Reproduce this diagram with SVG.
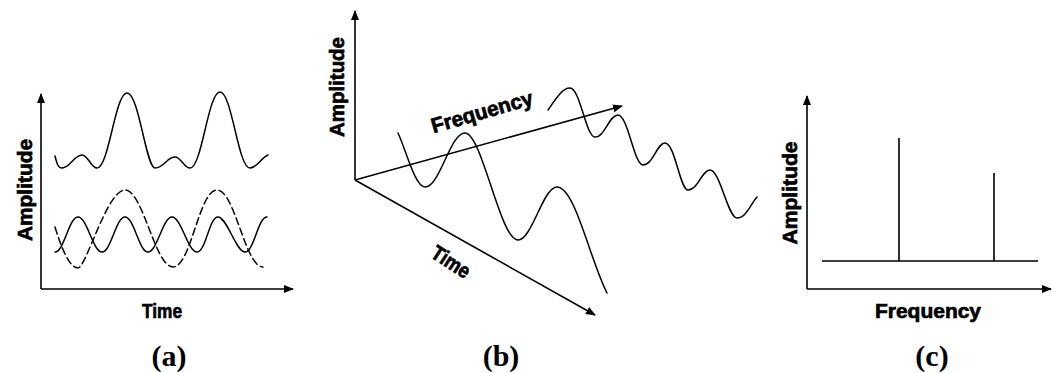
<svg xmlns="http://www.w3.org/2000/svg" width="1052" height="373" viewBox="0 0 1052 373">
<style>
.ax{stroke:#000;stroke-width:1.6;fill:none}
.cv{stroke:#000;stroke-width:1.5;fill:none;stroke-linejoin:round;stroke-linecap:round}
.dash{stroke-dasharray:7,4}
.lbl{font-family:"Liberation Sans Narrow","Liberation Sans",Arial,sans-serif;font-weight:bold;font-size:21px;fill:#000;stroke:#000;stroke-width:0.7}
.cap{font-family:"Liberation Serif","Times New Roman",serif;font-weight:bold;font-size:30px;fill:#000}
</style>
<defs>
<marker id="arr" markerUnits="userSpaceOnUse" markerWidth="10" markerHeight="8" refX="9" refY="4" orient="auto">
<path d="M0,0 L10,4 L0,8 Z" fill="#000"/>
</marker>
</defs>
<rect width="1052" height="373" fill="#fff"/>
<g id="connectors">
<path class="ax" d="M41,289 L41,94" marker-end="url(#arr)"/>
<path class="ax" d="M41,289 L293,289" marker-end="url(#arr)"/>
<path class="ax" d="M355,180 L355,11" marker-end="url(#arr)"/>
<path class="ax" d="M355,180 L622,106" marker-end="url(#arr)"/>
<path class="ax" d="M355,180 L595,315" marker-end="url(#arr)"/>
<path class="ax" d="M807,289 L807,96" marker-end="url(#arr)"/>
<path class="ax" d="M807,289 L1051,289" marker-end="url(#arr)"/>
</g>
<g id="panel-a">
<path class="cv" d="M55,156 C57,164 58,168 62,168 C70,168 74,155 82,155 C88,155 91,168 97,168 C109,168 115,93 127,93 C139,93 146,168 155,168 C164,168 167,157 175,157 C181,157 184,168 190,168 C202,168 208,92 220,92 C232,92 238,168 250,168 C257,168 262,157 268,155"/>
<path class="cv" d="M55,252 C64,252 69,217 78,217 S93,252 102,252 S116,217 125,217 S139,252 148,252 S163,217 172,217 S188,252 197,252 S209,217 218,217 S236,252 245,252 S258,217 267,217"/>
<path class="cv dash" d="M55,227 C62,250 70,268 78,268 S107,190 125,190 S155,267 173,267 S199,190 217,190 S245,267 263,267"/>
<text class="lbl" transform="translate(32,190) rotate(-90)" text-anchor="middle" textLength="102" lengthAdjust="spacingAndGlyphs">Amplitude</text>
<text class="lbl" x="162" y="318" text-anchor="middle" textLength="40" lengthAdjust="spacingAndGlyphs">Time</text>
<text class="cap" x="169" y="366" text-anchor="middle">(a)</text>
</g>
<g id="panel-b">
<path class="cv" d="M398,133 C406,150 415,187 425,187 C440,187 450,133 465,133 C482,133 500,240 518,240 C532,240 543,187 557,187 C575,187 590,260 607,293"/>
<path class="cv" d="M548,110 C555,100 562,88 570,88 C580,88 586,137 595,137 C605,137 609,115 618,115 C628,115 634,165 643,165 C653,165 657,143 665,143 C675,143 680,190 688,190 C698,190 702,170 710,170 C720,170 728,218 737,218 C746,218 750,205 757,197"/>
<text class="lbl" transform="translate(344,87) rotate(-90)" text-anchor="middle" textLength="100" lengthAdjust="spacingAndGlyphs">Amplitude</text>
<text class="lbl" transform="translate(482,112) rotate(-16)" y="7" text-anchor="middle" textLength="105" lengthAdjust="spacingAndGlyphs">Frequency</text>
<text class="lbl" transform="translate(451,262) rotate(33)" y="7" text-anchor="middle" textLength="42" lengthAdjust="spacingAndGlyphs">Time</text>
<text class="cap" x="501" y="366" text-anchor="middle">(b)</text>
</g>
<g id="panel-c">
<path class="ax" d="M822,261 L1038,261 M899,261 L899,138 M994,261 L994,173"/>
<text class="lbl" transform="translate(797,193) rotate(-90)" text-anchor="middle" textLength="103" lengthAdjust="spacingAndGlyphs">Amplitude</text>
<text class="lbl" x="928" y="318" text-anchor="middle" textLength="106" lengthAdjust="spacingAndGlyphs">Frequency</text>
<text class="cap" x="932" y="366" text-anchor="middle">(c)</text>
</g>
</svg>
